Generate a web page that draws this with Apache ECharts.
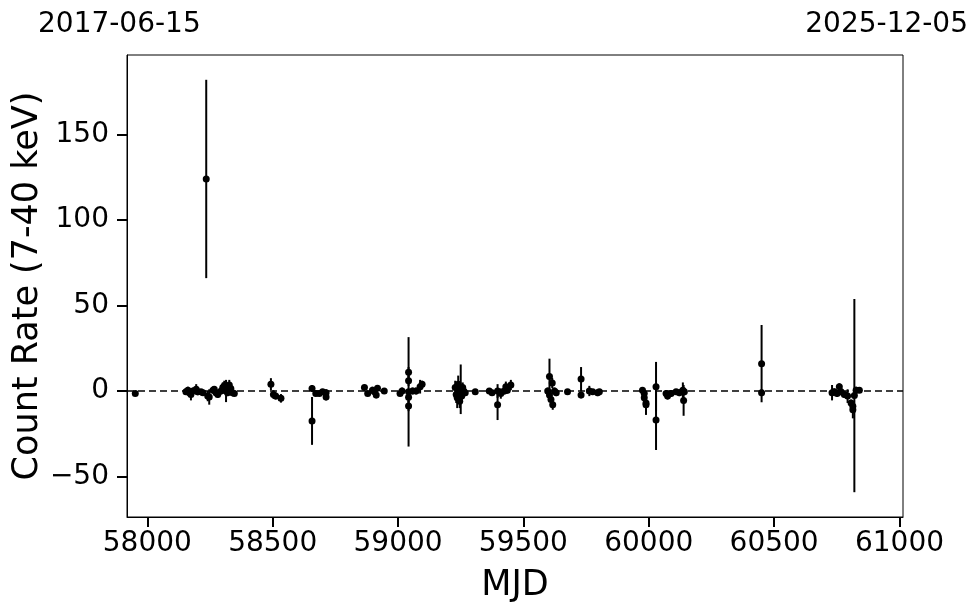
<!DOCTYPE html>
<html>
<head>
    <meta charset="utf-8">
    <title>Count rate light curve</title>
    <script src="https://cdn.jsdelivr.net/npm/echarts@6/dist/echarts.min.js"></script>
    <style>
        html, body { margin: 0; padding: 0; background: #fff; }
        #chart { width: 980px; height: 613px; }
    </style>
</head>
<body>
<div id="chart"></div>
<script type="text/javascript">
    var mjd = [
        57952,
        58154, 58162, 58168, 58174, 58182, 58195, 58201, 58214, 58222, 58235, 58241, 58247,
        58262, 58267, 58274, 58281, 58294, 58301, 58307, 58314, 58320, 58327, 58333, 58340, 58347,
        58493, 58503, 58512, 58533,
        58657, 58657, 58672, 58686, 58699, 58713, 58713,
        58866, 58879, 58898, 58906, 58913, 58918, 58945,
        59008, 59016, 59042, 59042, 59042, 59042, 59042, 59058, 59072, 59088, 59096,
        59228, 59232, 59236, 59240, 59243, 59246, 59250, 59254, 59258, 59262, 59268,
        59308,
        59364, 59375, 59397, 59397, 59410, 59424, 59430, 59436, 59450,
        59597, 59604, 59604, 59610, 59615, 59617, 59624, 59631,
        59676, 59730, 59730, 59763, 59776, 59796, 59803,
        59975, 59982, 59982, 59989, 59989, 60029, 60029,
        60069, 60075, 60089, 60109, 60122, 60136, 60139, 60142,
        60450, 60450,
        60731, 60740, 60751, 60760, 60767, 60780, 60793, 60807, 60814, 60814, 60820, 60827, 60840
    ];
    var rate = [
        -1.5,
        -0.5, 0.5, -1, -2, 0, 1, -0.5, -0.5, -1, 124, -3, -3.5,
        0.5, 1, -1, -2, 0, 2, 3, 0, -1, 3.5, 1.5, -1, -1.5,
        4, -2, -3, -4.3,
        1.5, -17.5, -1.4, -1.5, -0.5, -1, -3.5,
        2, -1.5, 0.5, -0.5, -2.3, 1.6, 0,
        -1.4, 0, 11, 6, -0.5, -3.7, -8.8, 0, 0, 2.5, 4,
        2, -2, -4, 4, 0, -6, 1, -3, 2, 0, -1,
        -0.5,
        0, -1, 0, -8, -1.5, 0, 2.5, 0.5, 3.5,
        0, 8.4, -2.3, -5, 4.7, -8, 0, -1,
        -0.5, 7, -2.3, 0, -0.5, -1, -0.5,
        0.5, -1.5, -4, -7, -8, 2.5, -17,
        -1.5, -3, -1.5, -0.5, -1, 0.5, -5.5, -0.5,
        16, -1,
        -1, -0.5, -1.5, 2.5, -0.5, -2, -3, -7, -11, -9, -2.7, 0.5, 0.5
    ];
    var rateErr = [
        0.8,
        1.5, 2, 2, 3.5, 2, 3, 2, 1.5, 1.5, 58, 3, 4.5,
        2, 1.5, 1.5, 2, 2, 3, 3, 6.5, 2, 3, 2, 1.5, 1.5,
        3.5, 2.5, 2, 2.5,
        2, 14, 1.5, 1.5, 1.5, 2, 2,
        1.5, 1.5, 2, 1.5, 2, 1.5, 1.5,
        1.5, 2, 3, 3, 32, 3, 3, 2, 2, 4, 2,
        4, 5, 6, 5, 3, 4, 14.5, 3, 3, 2, 2,
        1,
        1.5, 1.5, 4, 9, 3, 2, 3, 2, 3,
        2, 10.5, 2, 3, 3, 3, 2, 2,
        1, 7, 2, 3, 1.5, 2, 1.5,
        1.5, 2, 2, 4, 6, 14.5, 17.5,
        2, 2, 2, 1.5, 2, 4.5, 9, 2,
        22.6, 2,
        4.5, 2, 2, 2, 2, 2, 4, 2, 5, 3, 56.5, 2, 1.5
    ];
    var xTicks = [58000, 58500, 59000, 59500, 60000, 60500, 61000];
    var yTicks = [-50, 0, 50, 100, 150];
    var startDate = '2017-06-15';
    var endDate = '2025-12-05';

    var rows = [];
    for (var i = 0; i < mjd.length; i++) {
        rows.push([mjd[i], rate[i], rateErr[i]]);
    }

    var fontName = 'DejaVu Sans';
    function minus(v) {
        return String(v).replace('-', '\u2212');
    }

    var dom = document.getElementById('chart');
    var myChart = echarts.init(dom, null, {renderer: 'canvas'});

    var option = {
        animation: false,
        backgroundColor: '#ffffff',
        textStyle: {fontFamily: fontName, color: '#000'},
        title: [
            {text: startDate, left: 33, top: 6,
             textStyle: {fontFamily: fontName, fontSize: 28, fontWeight: 'normal', color: '#000'}},
            {text: endDate, right: 7, top: 6,
             textStyle: {fontFamily: fontName, fontSize: 28, fontWeight: 'normal', color: '#000'}}
        ],
        grid: {
            left: 127, right: 77, top: 55, bottom: 96,
            outerBoundsMode: 'none',
            containLabel: false,
            show: true, borderColor: '#000', borderWidth: 1, backgroundColor: '#fff'
        },
        xAxis: {
            type: 'value',
            min: 57919,
            max: 61014,
            name: 'MJD',
            nameLocation: 'middle',
            nameGap: 51,
            nameMoveOverlap: false,
            nameTextStyle: {fontFamily: fontName, fontSize: 35, color: '#000'},
            axisLine: {show: true, onZero: false, lineStyle: {color: '#000', width: 1}},
            axisTick: {show: true, inside: false, length: 10, lineStyle: {color: '#000', width: 2},
                       customValues: xTicks},
            axisLabel: {fontFamily: fontName, fontSize: 28, color: '#000', margin: 13,
                        customValues: xTicks, formatter: minus},
            splitLine: {show: false}
        },
        yAxis: {
            type: 'value',
            min: -73.7,
            max: 196.5,
            name: 'Count Rate (7-40 keV)',
            nameLocation: 'middle',
            nameGap: 82,
            nameMoveOverlap: false,
            nameTextStyle: {fontFamily: fontName, fontSize: 35, color: '#000'},
            axisLine: {show: true, onZero: false, lineStyle: {color: '#000', width: 1}},
            axisTick: {show: true, inside: false, length: 10, lineStyle: {color: '#000', width: 2},
                       customValues: yTicks},
            axisLabel: {fontFamily: fontName, fontSize: 28, color: '#000', margin: 18,
                        customValues: yTicks, formatter: minus},
            splitLine: {show: false}
        },
        series: [
            {
                name: 'errors',
                type: 'custom',
                data: rows,
                encode: {x: 0, y: 1},
                renderItem: function (params, api) {
                    var x = api.value(0), y = api.value(1), e = api.value(2);
                    var p1 = api.coord([x, y + e]);
                    var p2 = api.coord([x, y - e]);
                    return {
                        type: 'line',
                        shape: {x1: p1[0], y1: p1[1], x2: p2[0], y2: p2[1]},
                        style: {stroke: '#000', lineWidth: 2}
                    };
                },
                z: 2
            },
            {
                name: 'rate',
                type: 'scatter',
                data: rows,
                symbol: 'circle',
                symbolSize: 7,
                itemStyle: {color: '#000', opacity: 1},
                z: 3,
                markLine: {
                    silent: true,
                    symbol: ['none', 'none'],
                    label: {show: false},
                    lineStyle: {color: '#000', width: 1.5, type: [7, 4], opacity: 1},
                    data: [{yAxis: 0}]
                }
            }
        ]
    };

    if (option && typeof option === 'object') {
        myChart.setOption(option);
    }

    window.addEventListener('resize', myChart.resize);
</script>
</body>
</html>
